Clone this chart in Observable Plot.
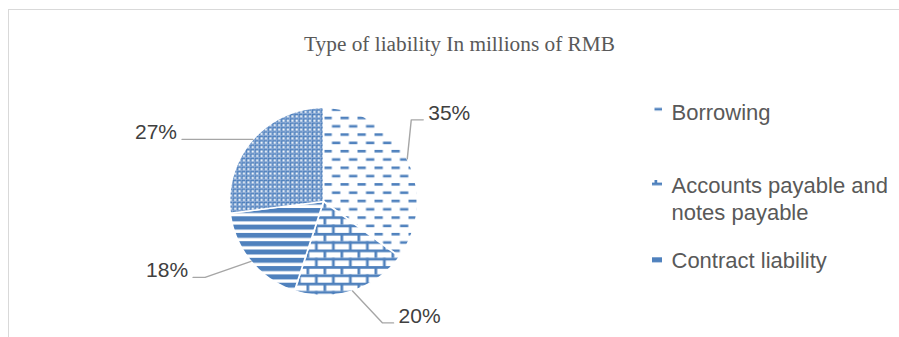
<!DOCTYPE html>
<html>
<head>
<meta charset="utf-8">
<script src="https://cdn.jsdelivr.net/npm/d3@7"></script>
<script src="https://cdn.jsdelivr.net/npm/@observablehq/plot@0.6"></script>
<style>
  html, body { margin: 0; padding: 0; background: #fff; }
  #wrap { position: relative; width: 899px; height: 337px; overflow: hidden; }
  #frame { position: absolute; left: 8px; top: 9px; width: 1000px; height: 400px;
           border: 1.5px solid #d9d9d9; box-sizing: border-box; }
  #chart { position: absolute; left: 0; top: 0; }
</style>
</head>
<body>
<div id="wrap"><div id="frame"></div><div id="chart"></div></div>
<script>
// ---- data ----
const title = "Type of liability In millions of RMB";
const categories = ["Borrowing", "Accounts payable and notes payable", "Contract liability", "Other"];
const shares = [35, 20, 18, 27];          // percent of total liabilities
const legendVisible = 3;                   // the legend is clipped after the third entry

// ---- layout (not data) ----
const W = 899, H = 337;
const CX = 323, CY = 201, R = 94;
// leader elbow offsets from the slice edge point, and length of the horizontal tail
const leaderElbow = [[4, -39, 12], [30, 32, 11], [-46, 16, -12], [-71, 0, 0]];
const legendX = 652, legendTextX = 671;
const legendBaselines = [119, 192, 267];
const legendFont = 22, legendLineHeight = 1.27;
const patternIds = ["p-borrow", "p-brick", "p-hstripe", "p-plaid"];
const blue = "#4f81bd";

// ---- geometry from the data ----
const arcs = d3.pie().sort(null).value(d => d)(shares);
const total = d3.sum(shares);
const pt = (a, r) => ({x: CX + r * Math.sin(a), y: CY - r * Math.cos(a)});

const slices = arcs.map((a, i) => {
  const pts = [{x: CX, y: CY}];
  const n = Math.max(2, Math.ceil((a.endAngle - a.startAngle) / (Math.PI / 180)));
  for (let k = 0; k <= n; k++) {
    pts.push(pt(a.startAngle + (a.endAngle - a.startAngle) * k / n, R));
  }
  pts.push({x: CX, y: CY});
  return pts;
});

const leaders = [];
const labels = [];
arcs.forEach((a, i) => {
  const mid = (a.startAngle + a.endAngle) / 2;
  const p = pt(mid, R);
  const [dx, dy, tail] = leaderElbow[i];
  const e = {x: p.x + dx, y: p.y + dy};
  const h = {x: e.x + tail, y: e.y};
  leaders.push({i, ...p}, {i, ...e}, {i, ...h});
  const right = (dx + tail) >= 0;
  labels.push({
    x: h.x + (right ? 5 : -5),
    y: h.y,
    anchor: right ? "start" : "end",
    text: Math.round(shares[i] / total * 100) + "%"
  });
});

const legend = categories.slice(0, legendVisible).map((c, i) => ({
  name: c, i, base: legendBaselines[i]
}));

const marks = [];
slices.forEach((pts, i) => {
  marks.push(Plot.line(pts, {x: "x", y: "y", fill: `url(#${patternIds[i]})`,
                              stroke: "#ffffff", strokeWidth: 1.6, strokeLinejoin: "round"}));
});
marks.push(Plot.line(leaders, {x: "x", y: "y", z: "i", stroke: "#a6a6a6", strokeWidth: 1.4}));
for (const anchor of ["start", "end"]) {
  marks.push(Plot.text(labels.filter(d => d.anchor === anchor), {
    x: "x", y: "y", text: "text", textAnchor: anchor, lineAnchor: "bottom",
    fontFamily: "Liberation Sans", fontSize: 21, fill: "#404040"
  }));
}
// legend markers
legend.forEach(d => {
  marks.push(Plot.rect([d], {
    x1: () => legendX, x2: () => legendX + 10,
    y1: e => e.base - 12, y2: e => e.base - 3,
    fill: `url(#${patternIds[d.i]})`
  }));
});
marks.push(Plot.text(legend, {
  x: () => legendTextX, y: d => d.base - 0.71 * legendLineHeight * legendFont, text: "name",
  textAnchor: "start", lineAnchor: "top", lineWidth: 11, lineHeight: legendLineHeight,
  fontFamily: "Liberation Sans", fontSize: legendFont, fill: "#595959"
}));
// title
marks.push(Plot.text([title], {
  x: () => 459, y: () => 50, text: d => d, textAnchor: "middle", lineAnchor: "bottom",
  fontFamily: "Liberation Serif", fontSize: 21.3, fill: "#595959"
}));

const svg = Plot.plot({
  width: W, height: H, margin: 0,
  x: {domain: [0, W], range: [0, W], axis: null},
  y: {domain: [0, H], range: [0, H], axis: null},
  style: {background: "transparent", fontFamily: "Liberation Sans"},
  marks
});

const defs = document.createElementNS("http://www.w3.org/2000/svg", "defs");
defs.innerHTML = `
<pattern id="p-borrow" patternUnits="userSpaceOnUse" width="17" height="16.6">
  <rect width="17" height="16.6" fill="#fff"/>
  <rect x="0" y="0" width="8.3" height="2.6" fill="${blue}"/>
  <rect x="8.5" y="8.3" width="8.3" height="2.6" fill="${blue}"/>
</pattern>
<pattern id="p-brick" patternUnits="userSpaceOnUse" width="17" height="16.6">
  <rect width="17" height="16.6" fill="#fff"/>
  <rect x="0" y="0" width="17" height="2.7" fill="${blue}"/>
  <rect x="0" y="8.3" width="17" height="2.7" fill="${blue}"/>
  <rect x="0" y="0" width="2.7" height="8.3" fill="${blue}"/>
  <rect x="8.5" y="8.3" width="2.7" height="8.3" fill="${blue}"/>
</pattern>
<pattern id="p-hstripe" patternUnits="userSpaceOnUse" width="10" height="8.3">
  <rect width="10" height="8.3" fill="#fff"/>
  <rect x="0" y="0" width="10" height="5" fill="${blue}"/>
</pattern>
<pattern id="p-plaid" patternUnits="userSpaceOnUse" width="4.4" height="4.4">
  <rect width="4.4" height="4.4" fill="${blue}"/>
  <rect x="0" y="2.9" width="4.4" height="0.5" fill="#a9c0e2"/>
  <rect x="2.9" y="0" width="0.5" height="4.4" fill="#a9c0e2"/>
  <rect x="0.4" y="0.4" width="2.0" height="2.0" fill="#ffffff"/>
</pattern>`;
svg.insertBefore(defs, svg.firstChild);
document.getElementById("chart").appendChild(svg);
</script>
</body>
</html>
